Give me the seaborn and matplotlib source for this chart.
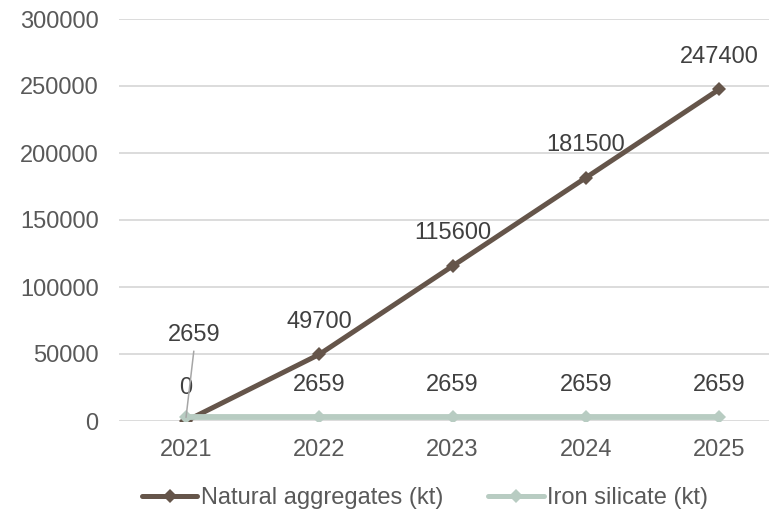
import matplotlib
matplotlib.use("Agg")
import matplotlib.pyplot as plt
import seaborn as sns
import pandas as pd

years = [2021, 2022, 2023, 2024, 2025]
natural_aggregates = [0, 49700, 115600, 181500, 247400]
iron_silicate = [2659, 2659, 2659, 2659, 2659]
series_names = ["Natural aggregates (kt)", "Iron silicate (kt)"]
y_ticks = [0, 50000, 100000, 150000, 200000, 250000, 300000]

colors = {"Natural aggregates (kt)": "#65554A", "Iron silicate (kt)": "#B8CCC2"}
widths = {"Natural aggregates (kt)": 3.6, "Iron silicate (kt)": 4.2}

sns.set_theme(style="white")
plt.rcParams["font.family"] = ["Liberation Sans", "DejaVu Sans"]

df = pd.DataFrame({
    "year": years * 2,
    "value": natural_aggregates + iron_silicate,
    "series": [series_names[0]] * len(years) + [series_names[1]] * len(years),
})

DPI = 100
W, H = 769, 516
FS = 17
fig = plt.figure(figsize=(W / DPI, H / DPI), dpi=DPI)
fig.patch.set_facecolor("white")
left_px, right_px, top_px, bottom_px = 119.4, 785.6, 19, 421
ax = fig.add_axes([left_px / W, (H - bottom_px) / H,
                   (right_px - left_px) / W, (bottom_px - top_px) / H])
ax.set_facecolor("white")

sns.lineplot(data=df, x="year", y="value", hue="series", palette=colors,
             hue_order=series_names, marker="D", markersize=7.5,
             markeredgewidth=0, linewidth=3.6, ax=ax, legend=True, zorder=3)
for line, name in zip(ax.get_lines(), series_names):
    line.set_linewidth(widths[name])

ax.set_xlim(years[0] - 0.5, years[-1] + 0.5)
ax.set_ylim(0, 300000)
ax.set_xticks(years)
ax.set_xticklabels([str(y) for y in years])
ax.set_yticks(y_ticks)
ax.set_yticklabels([str(t) for t in y_ticks])
ax.set_xlabel("")
ax.set_ylabel("")

for s in ax.spines.values():
    s.set_visible(False)
ax.grid(axis="y", color="#D9D9D9", linewidth=1.3, zorder=0)
ax.grid(axis="x", visible=False)
ax.tick_params(axis="both", length=0, labelsize=FS, labelcolor="#595959")
ax.tick_params(axis="y", pad=15)
ax.tick_params(axis="x", pad=13)

label_kw = dict(textcoords="offset points", ha="center", va="center",
                fontsize=FS, color="#404040", zorder=5)
offset = 23.5

for x, v in zip(years, natural_aggregates):
    ax.annotate(f"{v}", (x, v), xytext=(0, offset), **label_kw)

for i, (x, v) in enumerate(zip(years, iron_silicate)):
    if i == 0:
        ax.annotate(f"{v}", (x, v), xytext=(6, 59),
                    arrowprops=dict(arrowstyle="-", color="#A6A6A6", lw=1.1,
                                    relpos=(0.5, 0.0), shrinkA=1, shrinkB=0),
                    **label_kw)
    else:
        ax.annotate(f"{v}", (x, v), xytext=(0, offset), **label_kw)

handles, labels = ax.get_legend_handles_labels()
ax.legend_.remove()
fig.legend(handles, labels, loc="center", bbox_to_anchor=(425 / W, (H - 498) / H),
           ncol=2, frameon=False, fontsize=FS, labelcolor="#595959",
           handlelength=2.35, handletextpad=0.15, columnspacing=1.9,
           borderaxespad=0, borderpad=0)

fig.savefig("out.png", dpi=DPI, facecolor="white")
